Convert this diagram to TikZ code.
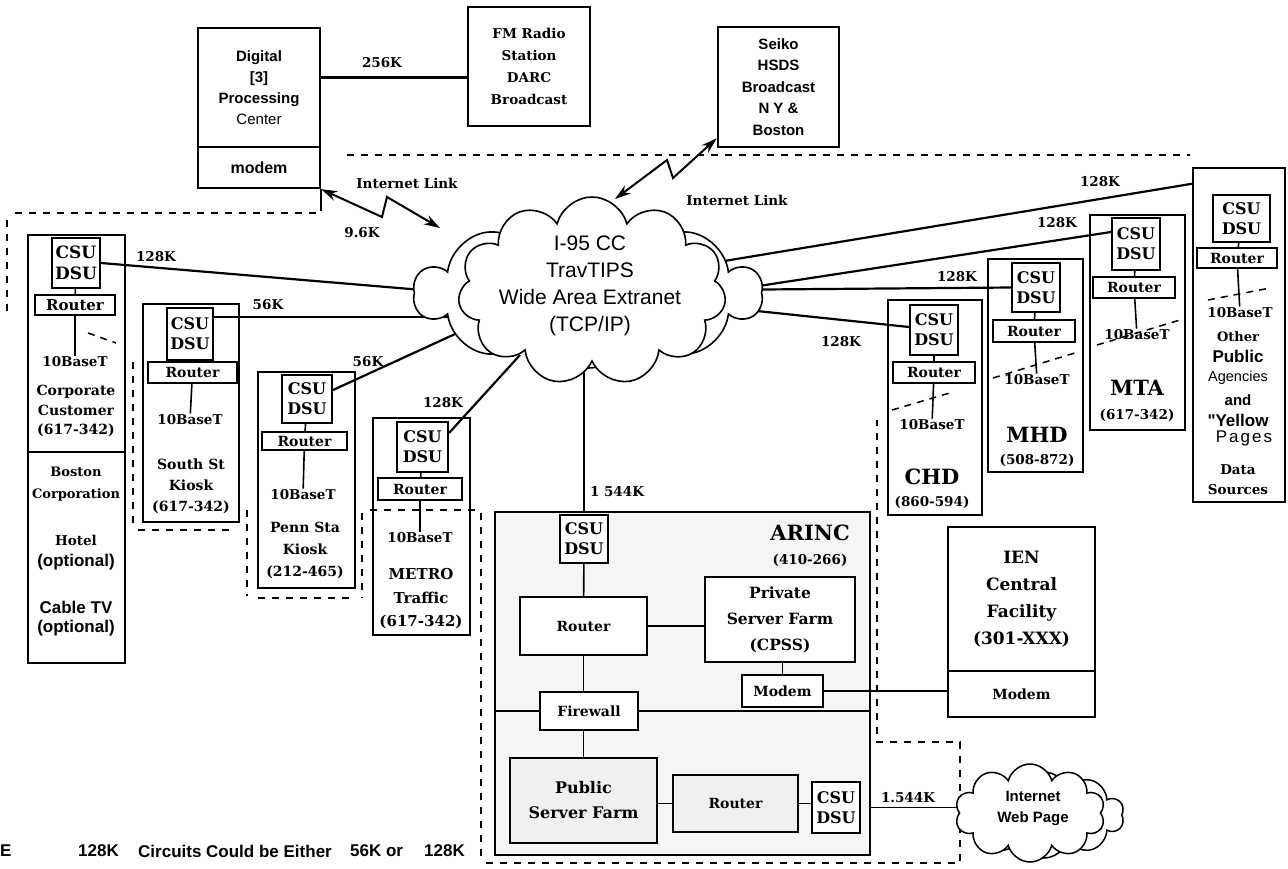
\documentclass[tikz,border=0pt]{standalone}
\usepackage{fontspec}
\newfontfamily\scanfont{DejaVu Serif}
\newfontfamily\arialfont{Liberation Sans}
\usetikzlibrary{shapes.symbols,arrows.meta}
\pgfdeclarelayer{bg}
\pgfsetlayers{bg,main}
\newcommand\setfs[2]{\fontsize{#1pt}{#2pt}\selectfont}
% \bx{style}{name}{x1}{y1}{x2}{y2}{text}
\newcommand\bx[7]{%
  \pgfmathsetmacro\bxw{#5-#3}\pgfmathsetmacro\bxh{#6-#4}%
  \pgfmathsetmacro\bxx{(#3+#5)/2}\pgfmathsetmacro\bxy{(#4+#6)/2}%
  \node[#1,minimum width=\bxw pt,minimum height=\bxh pt] (#2) at (\bxx,\bxy) {#7};}
\begin{document}
\begin{tikzpicture}[x=1pt,y=-1pt,
  site/.style={draw,line width=2.4pt,inner sep=0pt},
  dev/.style={draw,line width=2pt,inner sep=0pt,fill=white},
  lbl/.style={font=\scanfont\bfseries\setfs{13.5}{19},align=center,inner sep=1pt},
  csu/.style={font=\scanfont\bfseries\setfs{16}{20},align=center},
  rtr/.style={font=\scanfont\bfseries\setfs{14}{16},align=center},
  bigl/.style={font=\scanfont\bfseries\setfs{21}{24},align=center,inner sep=1pt},
  sns/.style={font=\arialfont\bfseries\setfs{15}{21},align=center,inner sep=1pt},
  leg/.style={anchor=west,font=\arialfont\bfseries\setfs{17}{20},inner sep=0pt},
  lnk/.style={line width=2.2pt},
  conn/.style={line width=1.6pt},
  dsh/.style={line width=1.6pt,dash pattern=on 7pt off 7pt},
  bus/.style={line width=1.5pt,dash pattern=on 7pt off 6pt},
  zap/.style={line width=2pt,>={Stealth[length=16pt,width=10pt]},<->},
  cl/.style={cloud,cloud ignores aspect,draw,line width=1.6pt,fill=white,inner sep=0pt},
]
\useasboundingbox (0,0) rectangle (1288,868);

% ---------- dashed outlines
\draw[dsh] (15,213) -- (320,213);
\draw[dsh] (347,155) -- (1190,155);
\draw[dsh] (7,220) -- (7,312);
\draw[dsh] (133,362) -- (133,524);
\draw[dsh] (138,530) -- (236,530);
\draw[dsh] (247,510) -- (247,596);
\draw[dsh] (362,513) -- (362,598);
\draw[dsh] (258,598) -- (354,598);
\draw[dsh] (370,510) -- (475,510);
\draw[dsh] (481,513) -- (481,863);
\draw[dsh] (486,863) -- (960,863) -- (960,742) -- (877,742) -- (877,420);

% ---------- top boxes
\bx{site,sns}{dig}{198}{28}{320}{147}{Digital\\{[3]}\\Processing\\{\mdseries Center}}
\bx{site,sns,font=\arialfont\bfseries\setfs{16}{20}}{modem}{198}{147}{320}{188}{modem}
\draw[site] (modem.south east) -- ++(0,22);
\bx{draw,line width=2pt,inner sep=0pt,lbl,font=\scanfont\bfseries\setfs{13.5}{22}}{fm}{468}{7}{590}{126}{FM Radio\\Station\\DARC\\Broadcast}
\draw[lnk] ([yshift=10pt]dig.east) -- ([yshift=10pt]dig.east -| fm.west);
\node[lbl] (l256) at (382,63) {256K};
\bx{draw,line width=2.6pt,inner sep=0pt,sns,font=\arialfont\bfseries\setfs{15}{21.5}}{seiko}{718}{27}{839}{147}{Seiko\\HSDS\\Broadcast\\N Y \&\\Boston}

% ---------- clouds
\node[cl,minimum width=347pt,minimum height=150pt] (cloud) at (588,293) {};
\node[cl,cloud puffs=11,minimum width=268pt,minimum height=188pt] (cloudIn) at (592,291) {};
\node[font=\arialfont\setfs{21}{27},align=center] (cloudT) at (590,286) {I-95 CC\\TravTIPS\\Wide Area Extranet\\(TCP/IP)};

\node[cl,line width=1.5pt,minimum width=160pt,minimum height=86pt] (inetB) at (1044,815) {};
\node[cl,line width=1.5pt,minimum width=150pt,minimum height=98pt] (inet) at (1030,813) {};
\node[sns] (inetT) at (1033,808) {Internet\\Web Page};

% ---------- internet links
\coordinate (zA) at (440,228);
\coordinate (zB) at (615,199);
\draw[zap] (modem.south east) -- (382,217) -- (387,197) -- (zA);
\draw[zap] (zB) -- (667,160) -- (673,178) -- ([yshift=10pt]seiko.south west);
\node[lbl] (il1) at (407,183) {Internet Link};
\node[lbl] (il2) at (737,200) {Internet Link};
\node[lbl] (l96) at (362,233) {9.6K};

% ---------- Corporate customer
\bx{site}{corp}{28}{235}{125}{452}{}
\bx{site}{corpB}{28}{452}{125}{663}{}
\bx{dev,csu,font=\scanfont\bfseries\setfs{17}{21}}{corpCSU}{52}{238}{100}{288}{CSU\\DSU}
\bx{dev,rtr,font=\scanfont\bfseries\setfs{15}{16}}{corpR}{35}{295}{115}{315}{Router}
\node[lbl] (corpT) at (75,362) {10BaseT};
\node[lbl,font=\scanfont\bfseries\setfs{14}{19.5}] (corpN) at (76,411) {Corporate\\Customer\\(617-342)};
\node[lbl,font=\scanfont\bfseries\setfs{13}{22}] (corpBo) at (76,484) {Boston\\Corporation};
\node[lbl] (hotel) at (76,540) {Hotel};
\node[sns,font=\arialfont\bfseries\setfs{17}{20}] (opt1) at (76,562) {(optional)};
\node[sns,font=\arialfont\bfseries\setfs{17}{20}] (cab) at (76,607) {Cable TV};
\node[sns,font=\arialfont\bfseries\setfs{17}{20}] (opt2) at (76,628) {(optional)};
\draw[conn] (corpCSU) -- (corpR);
\draw[conn] (corpR) -- (corpT);
\draw[bus] (88,333) -- (116,343);

% ---------- South St
\bx{site}{south}{143}{304}{239}{522}{}
\bx{dev,csu}{southCSU}{167}{308}{213}{360}{CSU\\DSU}
\bx{dev,rtr}{southR}{148}{362}{237}{383}{Router}
\node[lbl] (southT) at (190,420) {10BaseT};
\node[lbl,font=\scanfont\bfseries\setfs{14}{21}] (southN) at (191,486) {South St\\Kiosk\\(617-342)};
\draw[conn] (southCSU) -- (southR);
\draw[conn] (southR) -- (southT);

% ---------- Penn Sta
\bx{site}{penn}{258}{372}{355}{588}{}
\bx{dev,csu}{pennCSU}{282}{375}{332}{423}{CSU\\DSU}
\bx{dev,rtr}{pennR}{262}{432}{347}{450}{Router}
\node[lbl] (pennT) at (303,495) {10BaseT};
\node[lbl,font=\scanfont\bfseries\setfs{14}{22}] (pennN) at (305,550) {Penn Sta\\Kiosk\\(212-465)};
\draw[conn] (pennCSU) -- (pennR);
\draw[conn] (pennR) -- (pennT);

% ---------- METRO
\bx{site}{metro}{373}{418}{470}{635}{}
\bx{dev,csu}{metroCSU}{397}{422}{448}{472}{CSU\\DSU}
\bx{dev,rtr}{metroR}{378}{478}{462}{500}{Router}
\node[lbl] (metroT) at (420,538) {10BaseT};
\node[lbl,font=\scanfont\bfseries\setfs{15}{23.5}] (metroN) at (421,599) {METRO\\Traffic\\(617-342)};
\draw[conn] (metroCSU) -- (metroR);
\draw[conn] (metroR) -- (metroT);

% ---------- ARINC
\bx{site,line width=2.6pt,fill=black!4}{arinc}{495}{512}{870}{855}{}
\bx{dev,csu}{arincCSU}{560}{515}{608}{563}{CSU\\DSU}
\bx{dev,rtr}{arincR}{520}{597}{647}{655}{Router}
\bx{dev,line width=2.4pt,lbl,font=\scanfont\bfseries\setfs{15.5}{26}}{psf}{705}{577}{855}{662}{Private\\Server Farm\\(CPSS)}
\node[bigl] (arincN) at (810,533) {ARINC};
\node[lbl] (arincNum) at (810,560) {(410-266)};
\bx{dev,rtr}{modemA}{742}{675}{823}{707}{Modem}
\bx{dev,rtr}{fw}{540}{692}{638}{730}{Firewall}
\bx{dev,line width=2.4pt,fill=black!6,lbl,font=\scanfont\bfseries\setfs{16}{25}}{pub}{510}{758}{657}{843}{Public\\Server Farm}
\bx{dev,rtr,fill=black!6}{router2}{673}{775}{798}{832}{Router}
\bx{dev,csu}{csu2}{812}{782}{860}{833}{CSU\\DSU}
\node[lbl] (l1544a) at (617,492) {1 544K};
\node[lbl] (l1544b) at (908,798) {1.544K};
\draw[conn] (arincCSU) -- (arincR);
\draw[conn] (arincR.east) -- (arincR.east -| psf.west);
\draw[conn] (modemA.north) -- (modemA.north |- psf.south);
\draw[conn] (arincR.south) -- (arincR.south |- fw.north);
\draw[conn] (fw.west) -- (fw.west -| arinc.west);
\draw[conn] (fw.east) -- (fw.east -| arinc.east);
\draw[conn] (pub.north) -- (pub.north |- fw.south);
\draw[conn] (router2.west) -- (router2.west -| pub.east);
\draw[conn] (router2.east) -- (router2.east -| csu2.west);

% ---------- IEN
\bx{site,line width=2.2pt,lbl,font=\scanfont\bfseries\setfs{17}{27}}{ien}{948}{527}{1095}{671}{IEN\\Central\\Facility\\(301-XXX)}
\bx{site,line width=2.2pt,rtr}{ienM}{948}{671}{1095}{717}{Modem}
\draw[conn] (modemA.east) -- (modemA.east -| ienM.west);

% ---------- CHD
\bx{site}{chd}{888}{300}{982}{515}{}
\bx{dev,csu}{chdCSU}{910}{305}{958}{355}{CSU\\DSU}
\bx{dev,rtr}{chdR}{893}{362}{975}{383}{Router}
\node[lbl] (chdT) at (932,425) {10BaseT};
\node[bigl] (chdN) at (932,477) {CHD};
\node[lbl] (chdNum) at (932,502) {(860-594)};
\draw[conn] (chdCSU) -- (chdR);
\draw[conn] (chdR) -- (chdT);
\draw[bus] (892,410) -- (953,392);

% ---------- MHD
\bx{site}{mhd}{988}{259}{1083}{472}{}
\bx{dev,csu}{mhdCSU}{1012}{263}{1060}{312}{CSU\\DSU}
\bx{dev,rtr}{mhdR}{993}{320}{1075}{342}{Router}
\node[lbl] (mhdT) at (1037,380) {10BaseT};
\node[bigl] (mhdN) at (1037,435) {MHD};
\node[lbl] (mhdNum) at (1037,460) {(508-872)};
\draw[conn] (mhdCSU) -- (mhdR);
\draw[conn] (mhdR) -- (mhdT);
\draw[bus] (993,378) -- (1078,352);

% ---------- MTA
\bx{site}{mta}{1090}{215}{1185}{430}{}
\bx{dev,csu}{mtaCSU}{1112}{218}{1160}{270}{CSU\\DSU}
\bx{dev,rtr}{mtaR}{1093}{277}{1175}{298}{Router}
\node[lbl] (mtaT) at (1137,335) {10BaseT};
\node[bigl] (mtaN) at (1137,388) {MTA};
\node[lbl] (mtaNum) at (1137,415) {(617-342)};
\draw[conn] (mtaCSU) -- (mtaR);
\draw[conn] (mtaR) -- (mtaT);
\draw[bus] (1097,345) -- (1180,320);

% ---------- Other public agencies
\bx{site}{oth}{1193}{168}{1285}{502}{}
\bx{dev,csu}{othCSU}{1213}{195}{1270}{242}{CSU\\DSU}
\bx{dev,rtr}{othR}{1197}{248}{1277}{268}{Router}
\node[lbl] (othT) at (1240,313) {10BaseT};
\node[lbl,font=\scanfont\bfseries\setfs{13}{16}] (othO) at (1238,337) {Other};
\node[sns,font=\arialfont\bfseries\setfs{17}{20}] (othP) at (1238,356) {Public};
\node[font=\arialfont\setfs{14.5}{18},inner sep=1pt] (othA) at (1238,378) {Agencies};
\node[sns] (othAnd) at (1238,400) {and};
\node[sns,font=\arialfont\bfseries\setfs{17}{20}] (othY) at (1238,420) {"Yellow};
\node[font=\arialfont\setfs{17}{20},inner sep=1pt] (othPg) at (1244,438) {P\kern2pt a\kern2pt g\kern2pt e\kern2pt s};
\node[lbl] (othD) at (1238,470) {Data};
\node[lbl] (othS) at (1238,490) {Sources};
\draw[conn] (othCSU) -- (othR);
\draw[conn] (othR) -- (othT);
\draw[bus] (1208,300) -- (1270,288);

% ---------- rate labels
\node[lbl] (r1) at (156,257) {128K};
\node[lbl] (r2) at (268,305) {56K};
\node[lbl] (r3) at (368,362) {56K};
\node[lbl] (r4) at (443,403) {128K};
\node[lbl] (r5) at (1100,182) {128K};
\node[lbl] (r6) at (1057,223) {128K};
\node[lbl] (r7) at (957,277) {128K};
\node[lbl] (r8) at (841,342) {128K};

% ---------- legend
\node[leg] (legE) at (0,851) {E};
\node[leg] (leg1) at (78,851) {128K};
\node[leg] (leg2) at (138,851) {Circuits Could be Either};
\node[leg] (leg3) at (350,851) {56K or};
\node[leg] (leg4) at (424,851) {128K};

% ---------- links into the clouds (behind)
\coordinate (cA) at (470,294);
\coordinate (cB) at (480,317);
\coordinate (cC) at (490,318);
\coordinate (cD) at (520,355);
\coordinate (cE) at (700,265);
\coordinate (cF) at (700,295);
\coordinate (cG) at (700,290);
\coordinate (cH) at (700,305);
\begin{pgfonlayer}{bg}
\draw[lnk] (corpCSU.east) -- (cA);
\draw[lnk] ([yshift=17pt]southCSU.east) -- (cB);
\draw[lnk] ([yshift=9pt]pennCSU.east) -- (cC);
\draw[lnk] ([yshift=14pt]metroCSU.east) -- (cD);
\draw[lnk] ([yshift=-17pt]oth.north west) -- (cE);
\draw[lnk] ([yshift=12pt]mtaCSU.west) -- (cF);
\draw[lnk] (mhdCSU.west) -- (cG);
\draw[lnk] ([yshift=3pt]chdCSU.west) -- (cH);
\draw[lnk] (arincCSU.north) -- (arincCSU.north |- cloudIn.center);
\draw[conn] (csu2.east) -- (csu2.east -| inet.center);
\end{pgfonlayer}
\end{tikzpicture}
\end{document}
